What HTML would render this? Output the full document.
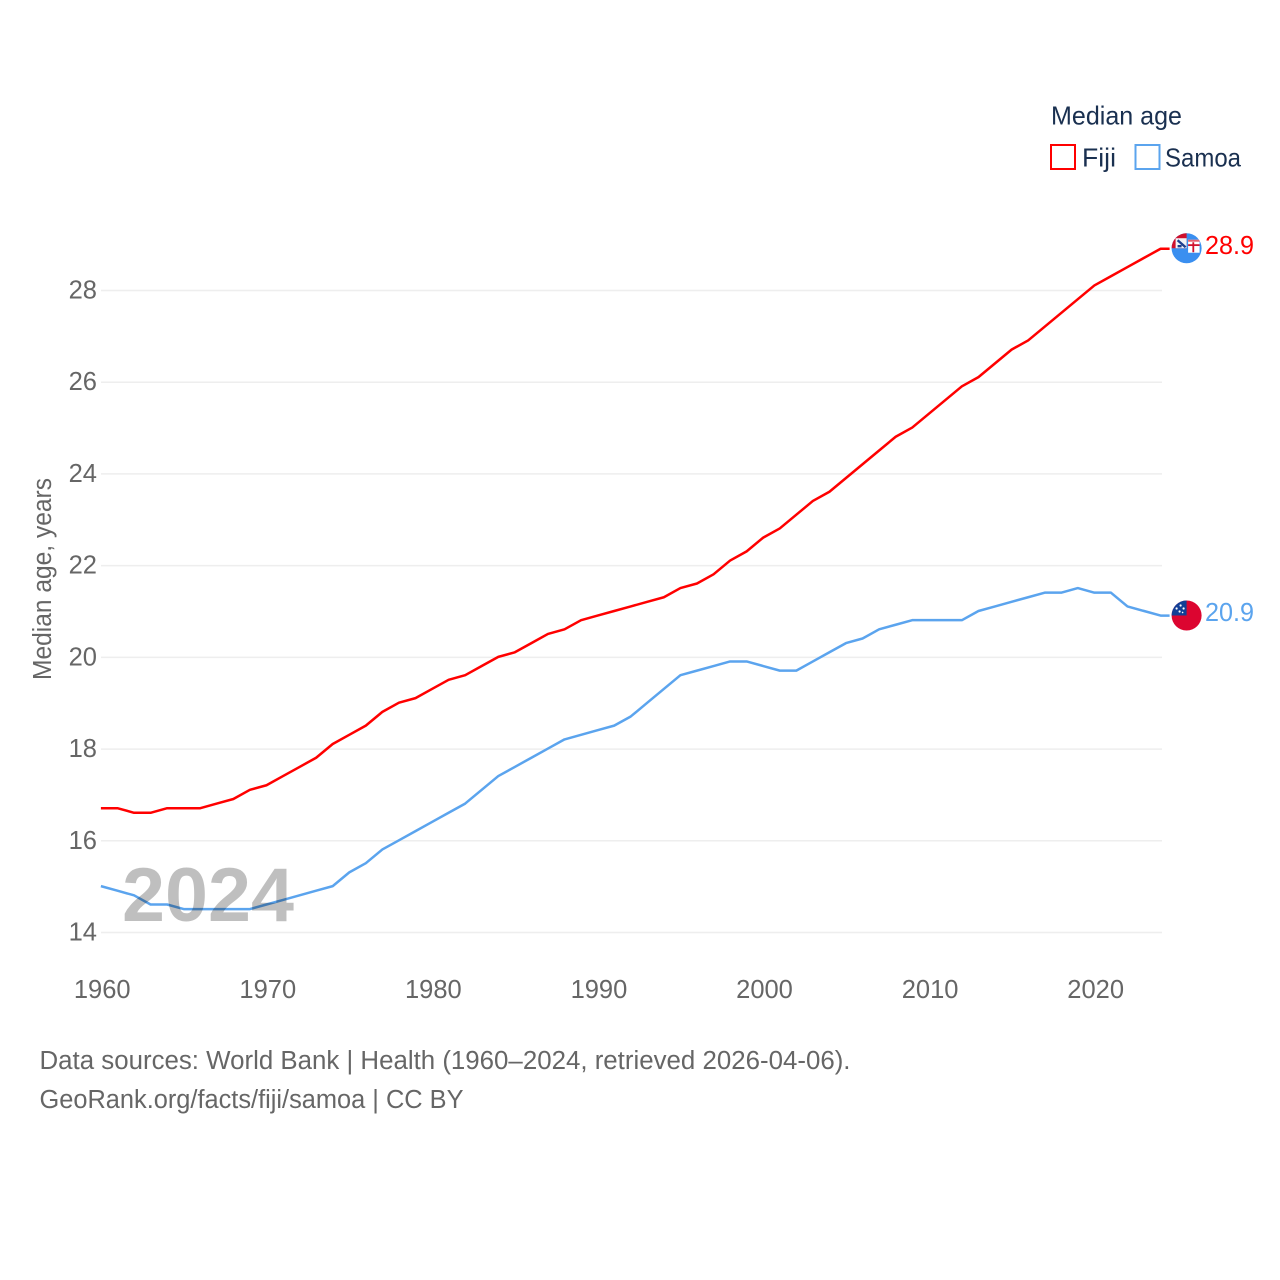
<!DOCTYPE html>
<html lang="en">
<head>
<meta charset="utf-8">
<title>Median age: Fiji and Samoa</title>
<style>
html,body{margin:0;padding:0;background:#fff;width:1280px;height:1280px;overflow:hidden}
svg{display:block;font-family:"Liberation Sans",sans-serif}
.tick{font-size:25.5px;fill:#666}
</style>
</head>
<body>
<svg id="chart" width="1280" height="1280" viewBox="0 0 1280 1280" xmlns="http://www.w3.org/2000/svg">
  <defs>
    <clipPath id="flag-clip"><circle cx="0" cy="0" r="15"/></clipPath>
  </defs>
  <g id="grid"></g>
  <g id="y-ticks"></g>
  <g id="x-ticks"></g>
  <text transform="translate(51,680) rotate(-90)" font-size="25.5" fill="#666" textLength="202" lengthAdjust="spacingAndGlyphs">Median age, years</text>

  <path id="line-fiji" fill="none" stroke="#ff0000" stroke-width="2.5" stroke-linejoin="round"></path>
  <path id="line-samoa" fill="none" stroke="#5ba4ee" stroke-width="2.5" stroke-linejoin="round"></path>

  <text x="122" y="921" font-size="76" font-weight="bold" fill="#000" fill-opacity="0.25" textLength="172" lengthAdjust="spacingAndGlyphs">2024</text>

  <g id="flag-fiji">
    <g clip-path="url(#flag-clip)">
      <rect x="-16" y="-16" width="32" height="32" fill="#3a8ff0"/>
      <rect x="-15" y="-16" width="15" height="16" fill="#d0102c"/>
      <rect x="-11" y="-10" width="11" height="10" fill="#f2f2f6"/>
      <path d="M-9,-8 L-1,-1 M-9,-2 L-5,-2" stroke="#1f3f8f" stroke-width="2.4"/>
      <rect x="1.5" y="-8.5" width="11.5" height="13" fill="#fff"/>
      <rect x="5.8" y="-6" width="1.8" height="10" fill="#d0102c"/>
      <rect x="1.5" y="-4" width="11.5" height="1.8" fill="#d0102c"/>
      <rect x="1.5" y="-8.5" width="11.5" height="2" fill="#e5606f"/>
    </g>
  </g>
  <g id="flag-samoa">
    <g clip-path="url(#flag-clip)">
      <rect x="-16" y="-16" width="32" height="32" fill="#dc0530"/>
      <rect x="-16" y="-16" width="16" height="16" fill="#123f96"/>
      <circle cx="-6" cy="-10" r="1.1" fill="#fff"/>
      <circle cx="-10" cy="-7" r="1.1" fill="#fff"/>
      <circle cx="-3" cy="-7" r="1.1" fill="#fff"/>
      <circle cx="-7" cy="-4" r="1.1" fill="#fff"/>
      <circle cx="-4" cy="-3" r="0.8" fill="#fff"/>
    </g>
  </g>

  <text id="label-fiji" x="1205" font-size="25.5" fill="#ff0000" textLength="49" lengthAdjust="spacingAndGlyphs"></text>
  <text id="label-samoa" x="1205" font-size="25.5" fill="#5ba4ee" textLength="49" lengthAdjust="spacingAndGlyphs"></text>

  <g>
    <text x="1051" y="124.5" font-size="26" fill="#1a3050" textLength="131" lengthAdjust="spacingAndGlyphs">Median age</text>
    <rect x="1051" y="145" width="24" height="24" fill="none" stroke="#ff0000" stroke-width="2"/>
    <text x="1082" y="166.5" font-size="26" fill="#1a3050" textLength="34" lengthAdjust="spacingAndGlyphs">Fiji</text>
    <rect x="1135.5" y="145" width="24" height="24" fill="none" stroke="#5ba4ee" stroke-width="2"/>
    <text x="1165" y="166.5" font-size="26" fill="#1a3050" textLength="76" lengthAdjust="spacingAndGlyphs">Samoa</text>
  </g>

  <text x="39.5" y="1069" font-size="25.5" fill="#666" textLength="811" lengthAdjust="spacingAndGlyphs">Data sources: World Bank | Health (1960–2024, retrieved 2026-04-06).</text>
  <text x="39.5" y="1108" font-size="25.5" fill="#666" textLength="424" lengthAdjust="spacingAndGlyphs">GeoRank.org/facts/fiji/samoa | CC BY</text>
</svg>
<script>
const startYear = 1960;
const fijiValues = [16.7,16.7,16.6,16.6,16.7,16.7,16.7,16.8,16.9,17.1,17.2,17.4,17.6,17.8,18.1,18.3,18.5,18.8,19.0,19.1,19.3,19.5,19.6,19.8,20.0,20.1,20.3,20.5,20.6,20.8,20.9,21.0,21.1,21.2,21.3,21.5,21.6,21.8,22.1,22.3,22.6,22.8,23.1,23.4,23.6,23.9,24.2,24.5,24.8,25.0,25.3,25.6,25.9,26.1,26.4,26.7,26.9,27.2,27.5,27.8,28.1,28.3,28.5,28.7,28.9];
const samoaValues = [15.0,14.9,14.8,14.6,14.6,14.5,14.5,14.5,14.5,14.5,14.6,14.7,14.8,14.9,15.0,15.3,15.5,15.8,16.0,16.2,16.4,16.6,16.8,17.1,17.4,17.6,17.8,18.0,18.2,18.3,18.4,18.5,18.7,19.0,19.3,19.6,19.7,19.8,19.9,19.9,19.8,19.7,19.7,19.9,20.1,20.3,20.4,20.6,20.7,20.8,20.8,20.8,20.8,21.0,21.1,21.2,21.3,21.4,21.4,21.5,21.4,21.4,21.1,21.0,20.9];
const yTickValues = [14,16,18,20,22,24,26,28];
const xTickValues = [1960,1970,1980,1990,2000,2010,2020];

const NS = 'http://www.w3.org/2000/svg';
function xScale(year){ return 100.9 + (year - 1960) * (1160.6 - 100.9) / 64; }
function yScale(v){ return 932.5 - (v - 14) * (932.5 - 290.5) / 14; }
const lineYOffset = -0.5;

const gridGroup = document.getElementById('grid');
const yGroup = document.getElementById('y-ticks');
const xGroup = document.getElementById('x-ticks');

yTickValues.forEach(function(v){
  const line = document.createElementNS(NS, 'line');
  
  
  line.setAttribute('x1', 101);
  line.setAttribute('x2', 1162);
  line.setAttribute('y1', yScale(v));
  line.setAttribute('y2', yScale(v));
  line.setAttribute('stroke', '#eeeeee');
  line.setAttribute('stroke-width', '1.5');
  gridGroup.appendChild(line);

  const label = document.createElementNS(NS, 'text');
  
  
  label.setAttribute('class', 'tick');
  label.setAttribute('x', 97);
  label.setAttribute('y', yScale(v) + 8);
  label.setAttribute('text-anchor', 'end');
  label.textContent = v;
  yGroup.appendChild(label);
});

xTickValues.forEach(function(year){
  const label = document.createElementNS(NS, 'text');
  
  
  label.setAttribute('class', 'tick');
  label.setAttribute('x', xScale(year) + 1.3);
  label.setAttribute('y', 998);
  label.setAttribute('text-anchor', 'middle');
  label.textContent = year;
  xGroup.appendChild(label);
});

function linePath(values){
  const pts = values.map(function(v, i){
    return (i ? 'L' : 'M') + xScale(startYear + i).toFixed(2) + ',' + (yScale(v) + lineYOffset).toFixed(2);
  });
  const last = values[values.length - 1];
  pts.push('L' + (xScale(2024) + 9).toFixed(2) + ',' + (yScale(last) + lineYOffset).toFixed(2));
  return pts.join(' ');
}
document.getElementById('line-fiji').setAttribute('d', linePath(fijiValues));
document.getElementById('line-samoa').setAttribute('d', linePath(samoaValues));

const fijiLast = fijiValues[fijiValues.length - 1];
const samoaLast = samoaValues[samoaValues.length - 1];
const flagX = xScale(2024) + 26;
document.getElementById('flag-fiji').setAttribute('transform', 'translate(' + flagX + ',' + (yScale(fijiLast) - 1) + ')');
document.getElementById('flag-samoa').setAttribute('transform', 'translate(' + flagX + ',' + (yScale(samoaLast) - 0.6) + ')');

const labelFiji = document.getElementById('label-fiji');
labelFiji.setAttribute('y', yScale(fijiLast) + 5);
labelFiji.textContent = fijiLast.toFixed(1);
const labelSamoa = document.getElementById('label-samoa');
labelSamoa.setAttribute('y', yScale(samoaLast) + 5);
labelSamoa.textContent = samoaLast.toFixed(1);
</script>
</body>
</html>
